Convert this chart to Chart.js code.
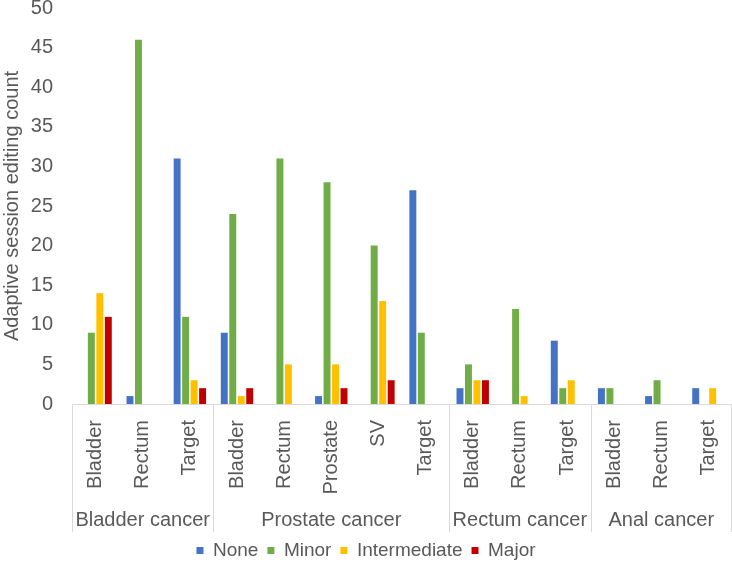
<!DOCTYPE html>
<html>
<head>
<meta charset="utf-8">
<script src="https://cdn.jsdelivr.net/npm/chart.js@4.4.1/dist/chart.umd.min.js"></script>
<style>
  html, body { margin: 0; padding: 0; background: #fff; }
  #wrap { width: 732px; height: 570px; }
</style>
</head>
<body>
<div id="wrap"><canvas id="chart"></canvas></div>
<script>
// Categories (structure / cancer group)
const categories = [
  "Bladder", "Rectum", "Target",
  "Bladder", "Rectum", "Prostate", "SV", "Target",
  "Bladder", "Rectum", "Target",
  "Bladder", "Rectum", "Target"
];
const groups = [ "Bladder cancer", "Prostate cancer", "Rectum cancer", "Anal cancer" ];
const groupSizes = [ 3, 5, 3, 3 ];

// Series values
const noneValues         = [ 0, 1, 31,  9,  0,  1,  0, 27,  2,  0, 8,  2, 1, 2 ];
const minorValues        = [ 9, 46, 11, 24, 31, 28, 20, 9,  5, 12, 2,  2, 3, 0 ];
const intermediateValues = [ 14, 0, 3,  1,  5,  5, 13, 0,  3,  1, 3,  0, 0, 2 ];
const majorValues        = [ 11, 0, 2,  2,  0,  2,  3, 0,  3,  0, 0,  0, 0, 0 ];

const textColor = "#595959";
const lineColor = "#d9d9d9";
const fontFamily = "'Liberation Sans', Arial, sans-serif";
const xAxisHeight = 128;

/*
 * Draws the second category level: separators and cancer group names.
 */
const groupAxis = {
  id: "groupAxis",
  afterDraw: function( chart )
  {
    const ctx = chart.ctx;
    const x = chart.scales.x;
    const area = chart.chartArea;
    const half = ( x.getPixelForValue( 1 ) - x.getPixelForValue( 0 ) ) / 2;
    const bottom = area.bottom + xAxisHeight;

    ctx.save();
    ctx.strokeStyle = lineColor;
    ctx.lineWidth = 1;
    ctx.fillStyle = textColor;
    ctx.font = "20px " + fontFamily;
    ctx.textAlign = "center";
    ctx.textBaseline = "middle";

    let start = 0;
    groups.forEach( ( name, i ) =>
    {
      const end = start + groupSizes[i] - 1;
      const left = x.getPixelForValue( start ) - half;
      const right = x.getPixelForValue( end ) + half;

      // Separator lines
      [ left, right ].forEach( px =>
      {
        const p = Math.min( Math.round( px ) + 0.5, chart.width - 0.5 );
        ctx.beginPath();
        ctx.moveTo( p, area.bottom );
        ctx.lineTo( p, bottom );
        ctx.stroke();
      });

      ctx.fillText( name, ( left + right ) / 2, area.bottom + 116 );
      start = end + 1;
    });
    ctx.restore();
  }
};

new Chart( document.getElementById( "chart" ), {
  type: "bar",
  data: {
    labels: categories,
    datasets: [
      { label: "None", data: noneValues, backgroundColor: "#4472C4" },
      { label: "Minor", data: minorValues, backgroundColor: "#70AD47" },
      { label: "Intermediate", data: intermediateValues, backgroundColor: "#FFC000" },
      { label: "Major", data: majorValues, backgroundColor: "#C00000" }
    ]
  },
  options: {
    responsive: true,
    maintainAspectRatio: false,
    animation: false,
    categoryPercentage: 0.72,
    barPercentage: 0.82,
    layout: {
      padding: { top: 8, right: 0, left: 0, bottom: 0 }
    },
    plugins: {
      legend: {
        position: "bottom",
        labels: {
          boxWidth: 7,
          boxHeight: 7,
          padding: 9,
          color: textColor,
          font: { family: fontFamily, size: 19 }
        }
      },
      tooltip: { enabled: false }
    },
    scales: {
      x: {
        grid: { display: false },
        border: { display: true, color: lineColor },
        ticks: {
          autoSkip: false,
          minRotation: 90,
          maxRotation: 90,
          padding: 8,
          color: textColor,
          font: { family: fontFamily, size: 20 }
        },
        afterFit: scale =>
        {
          scale.height = xAxisHeight;
          scale.paddingLeft = 0;
          scale.paddingRight = 0;
        }
      },
      y: {
        min: 0,
        max: 50,
        grid: { display: false },
        border: { display: false },
        ticks: {
          stepSize: 5,
          padding: 11,
          color: textColor,
          font: { family: fontFamily, size: 20 }
        },
        title: {
          display: true,
          text: "Adaptive session editing count",
          color: textColor,
          padding: 0,
          font: { family: fontFamily, size: 20 }
        },
        afterFit: scale =>
        {
          scale.width = 72;
          scale.paddingTop = 0;
          scale.paddingBottom = 0;
        }
      }
    }
  },
  plugins: [ groupAxis ]
});
</script>
</body>
</html>
